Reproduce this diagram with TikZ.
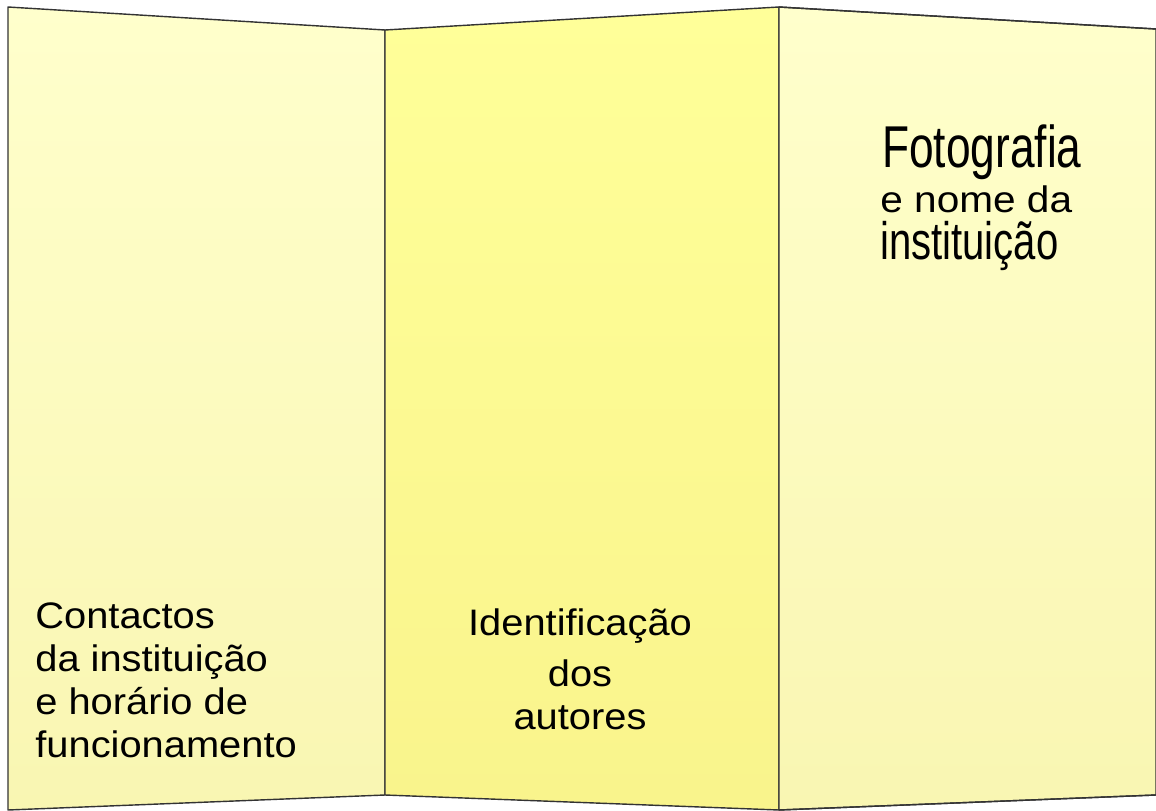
\documentclass[tikz,border=0pt]{standalone}
\usepackage{fontspec}
\setmainfont{Liberation Sans}
\usetikzlibrary{positioning}
\definecolor{paleYellow}{RGB}{255,255,204}
\definecolor{paleYellowDark}{RGB}{249,246,178}
\definecolor{midYellow}{RGB}{255,255,153}
\definecolor{midYellowDark}{RGB}{249,244,140}
\definecolor{foldLine}{RGB}{51,51,51}

\begin{document}
\begin{tikzpicture}[
                x=0.02cm, y=-0.02cm,
                outerpanel/.style={draw=foldLine, line width=0.8pt, line join=round, top color=paleYellow, bottom color=paleYellowDark},
                middlepanel/.style={draw=foldLine, line width=0.8pt, line join=round, top color=midYellow, bottom color=midYellowDark},
                label/.style={inner sep=0pt, font=\fontsize{21}{25}\selectfont, xscale=1.08},
                ]
        
                % Page size
                \useasboundingbox (0,0) rectangle (1156,811);
        
                % Corners of the folds
                \coordinate (leftTop) at (8,7);
                \coordinate (leftBottom) at (8,810);
                \coordinate (foldOneTop) at (385,30);
                \coordinate (foldOneBottom) at (385,795);
                \coordinate (foldTwoTop) at (779,7);
                \coordinate (foldTwoBottom) at (779,810);
                \coordinate (rightTop) at (1156,29);
                \coordinate (rightBottom) at (1156,795);
        
                % The three panels
                \path[outerpanel] (leftTop) -- (foldOneTop) -- (foldOneBottom) -- (leftBottom) -- cycle;
                \path[middlepanel] (foldOneTop) -- (foldTwoTop) -- (foldTwoBottom) -- (foldOneBottom) -- cycle;
                \path[outerpanel] (foldTwoTop) -- (rightTop) -- (rightBottom) -- (foldTwoBottom) -- cycle;
                \draw[foldLine, line width=0.8pt] (foldTwoTop) -- (rightTop);
                \draw[foldLine, line width=0.8pt] (foldTwoBottom) -- (rightBottom);
        
                % Texts (base anchor sits on the last line)
                \node [label, anchor=base west, align=left] (contacts) at (35,757)
                        {Contactos\\[-0.6pt] da instituição\\[-0.6pt] e horário de\\[-0.6pt] funcionamento};
        
                \node [label, anchor=base, align=center] (authors) at (580,729)
                        {Identificação\\[4pt] dos\\[-1pt] autores};
        
                \node [inner sep=0pt, anchor=base west, font=\fontsize{33.6}{36}\selectfont, xscale=0.75] (photo) at (882,167) {Fotografia};
                \node [inner sep=0pt, anchor=base west, font=\fontsize{21}{24}\selectfont, xscale=1.1] (nameLine) at (880,212) {e nome da};
                \node [inner sep=0pt, anchor=base west, font=\fontsize{30}{32}\selectfont, xscale=0.76] (institution) at (880,259) {instituição};
        
            \end{tikzpicture}
\end{document}
